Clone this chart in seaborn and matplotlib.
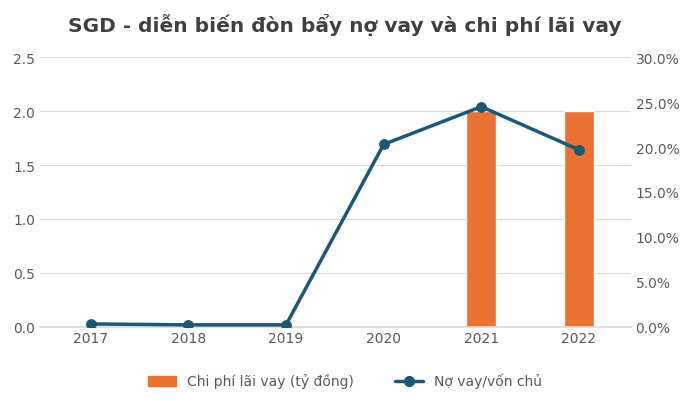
import matplotlib
matplotlib.use("Agg")
import matplotlib.pyplot as plt
import seaborn as sns
import pandas as pd
from matplotlib.ticker import PercentFormatter

years = ["2017", "2018", "2019", "2020", "2021", "2022"]
interest_cost = [0, 0, 0, 0, 2.0, 2.0]
debt_equity = [0.003, 0.002, 0.002, 0.203, 0.245, 0.197]

sns.set_theme(style="white")
plt.rcParams['font.family'] = ['DejaVu Sans']

fig = plt.figure(figsize=(6.9, 4.02), dpi=100)
ax = fig.add_axes([0.058, 0.185, 0.856, 0.67])
df = pd.DataFrame({"year": years, "cost": interest_cost, "de": debt_equity})
sns.barplot(data=df, x="year", y="cost", color="#E97132", width=0.31, ax=ax, saturation=1)
ax.set_xlim(-0.52, 5.53)
ax.set_ylim(0, 2.5)
ax.set_yticks([0, 0.5, 1.0, 1.5, 2.0, 2.5])
ax.set_yticklabels([f"{v:.1f}" for v in [0, 0.5, 1.0, 1.5, 2.0, 2.5]])
ax.grid(axis="y", color="#D9D9D9", lw=0.8)
ax.set_axisbelow(True)
ax.set_xlabel(""); ax.set_ylabel("")
for s in ["top", "left", "right"]:
    ax.spines[s].set_visible(False)
ax.spines["bottom"].set_color("#D9D9D9")
ax.tick_params(colors="#595959", labelsize=10, length=0)

ax2 = ax.twinx()
sns.lineplot(x=list(range(len(years))), y=debt_equity, ax=ax2, color="#1B5777", lw=2.5,
             marker="o", markersize=7, markeredgecolor="#1B5777")
ax2.set_xlim(-0.52, 5.53)
ax2.set_ylim(0, 0.30)
ax2.set_yticks([i * 0.05 for i in range(7)])
ax2.yaxis.set_major_formatter(PercentFormatter(1.0, decimals=1))
for s in ["top", "left", "right", "bottom"]:
    ax2.spines[s].set_visible(False)
ax2.tick_params(colors="#595959", labelsize=10, length=0)
ax2.set_ylabel("")

fig.suptitle("SGD - diễn biến đòn bẩy nợ vay và chi phí lãi vay", y=0.965,
             fontsize=14.5, fontweight="bold", color="#404040")

from matplotlib.patches import Patch
from matplotlib.lines import Line2D
handles = [Patch(color="#E97132", label="Chi phí lãi vay (tỷ đồng)"),
           Line2D([], [], color="#1B5777", lw=2.5, marker="o", markersize=7, label="Nợ vay/vốn chủ")]
fig.legend(handles=handles, loc="lower center", ncol=2, frameon=False,
           bbox_to_anchor=(0.5, 0.0), fontsize=10, labelcolor="#595959", columnspacing=3)
fig.savefig("out.png", dpi=100)
